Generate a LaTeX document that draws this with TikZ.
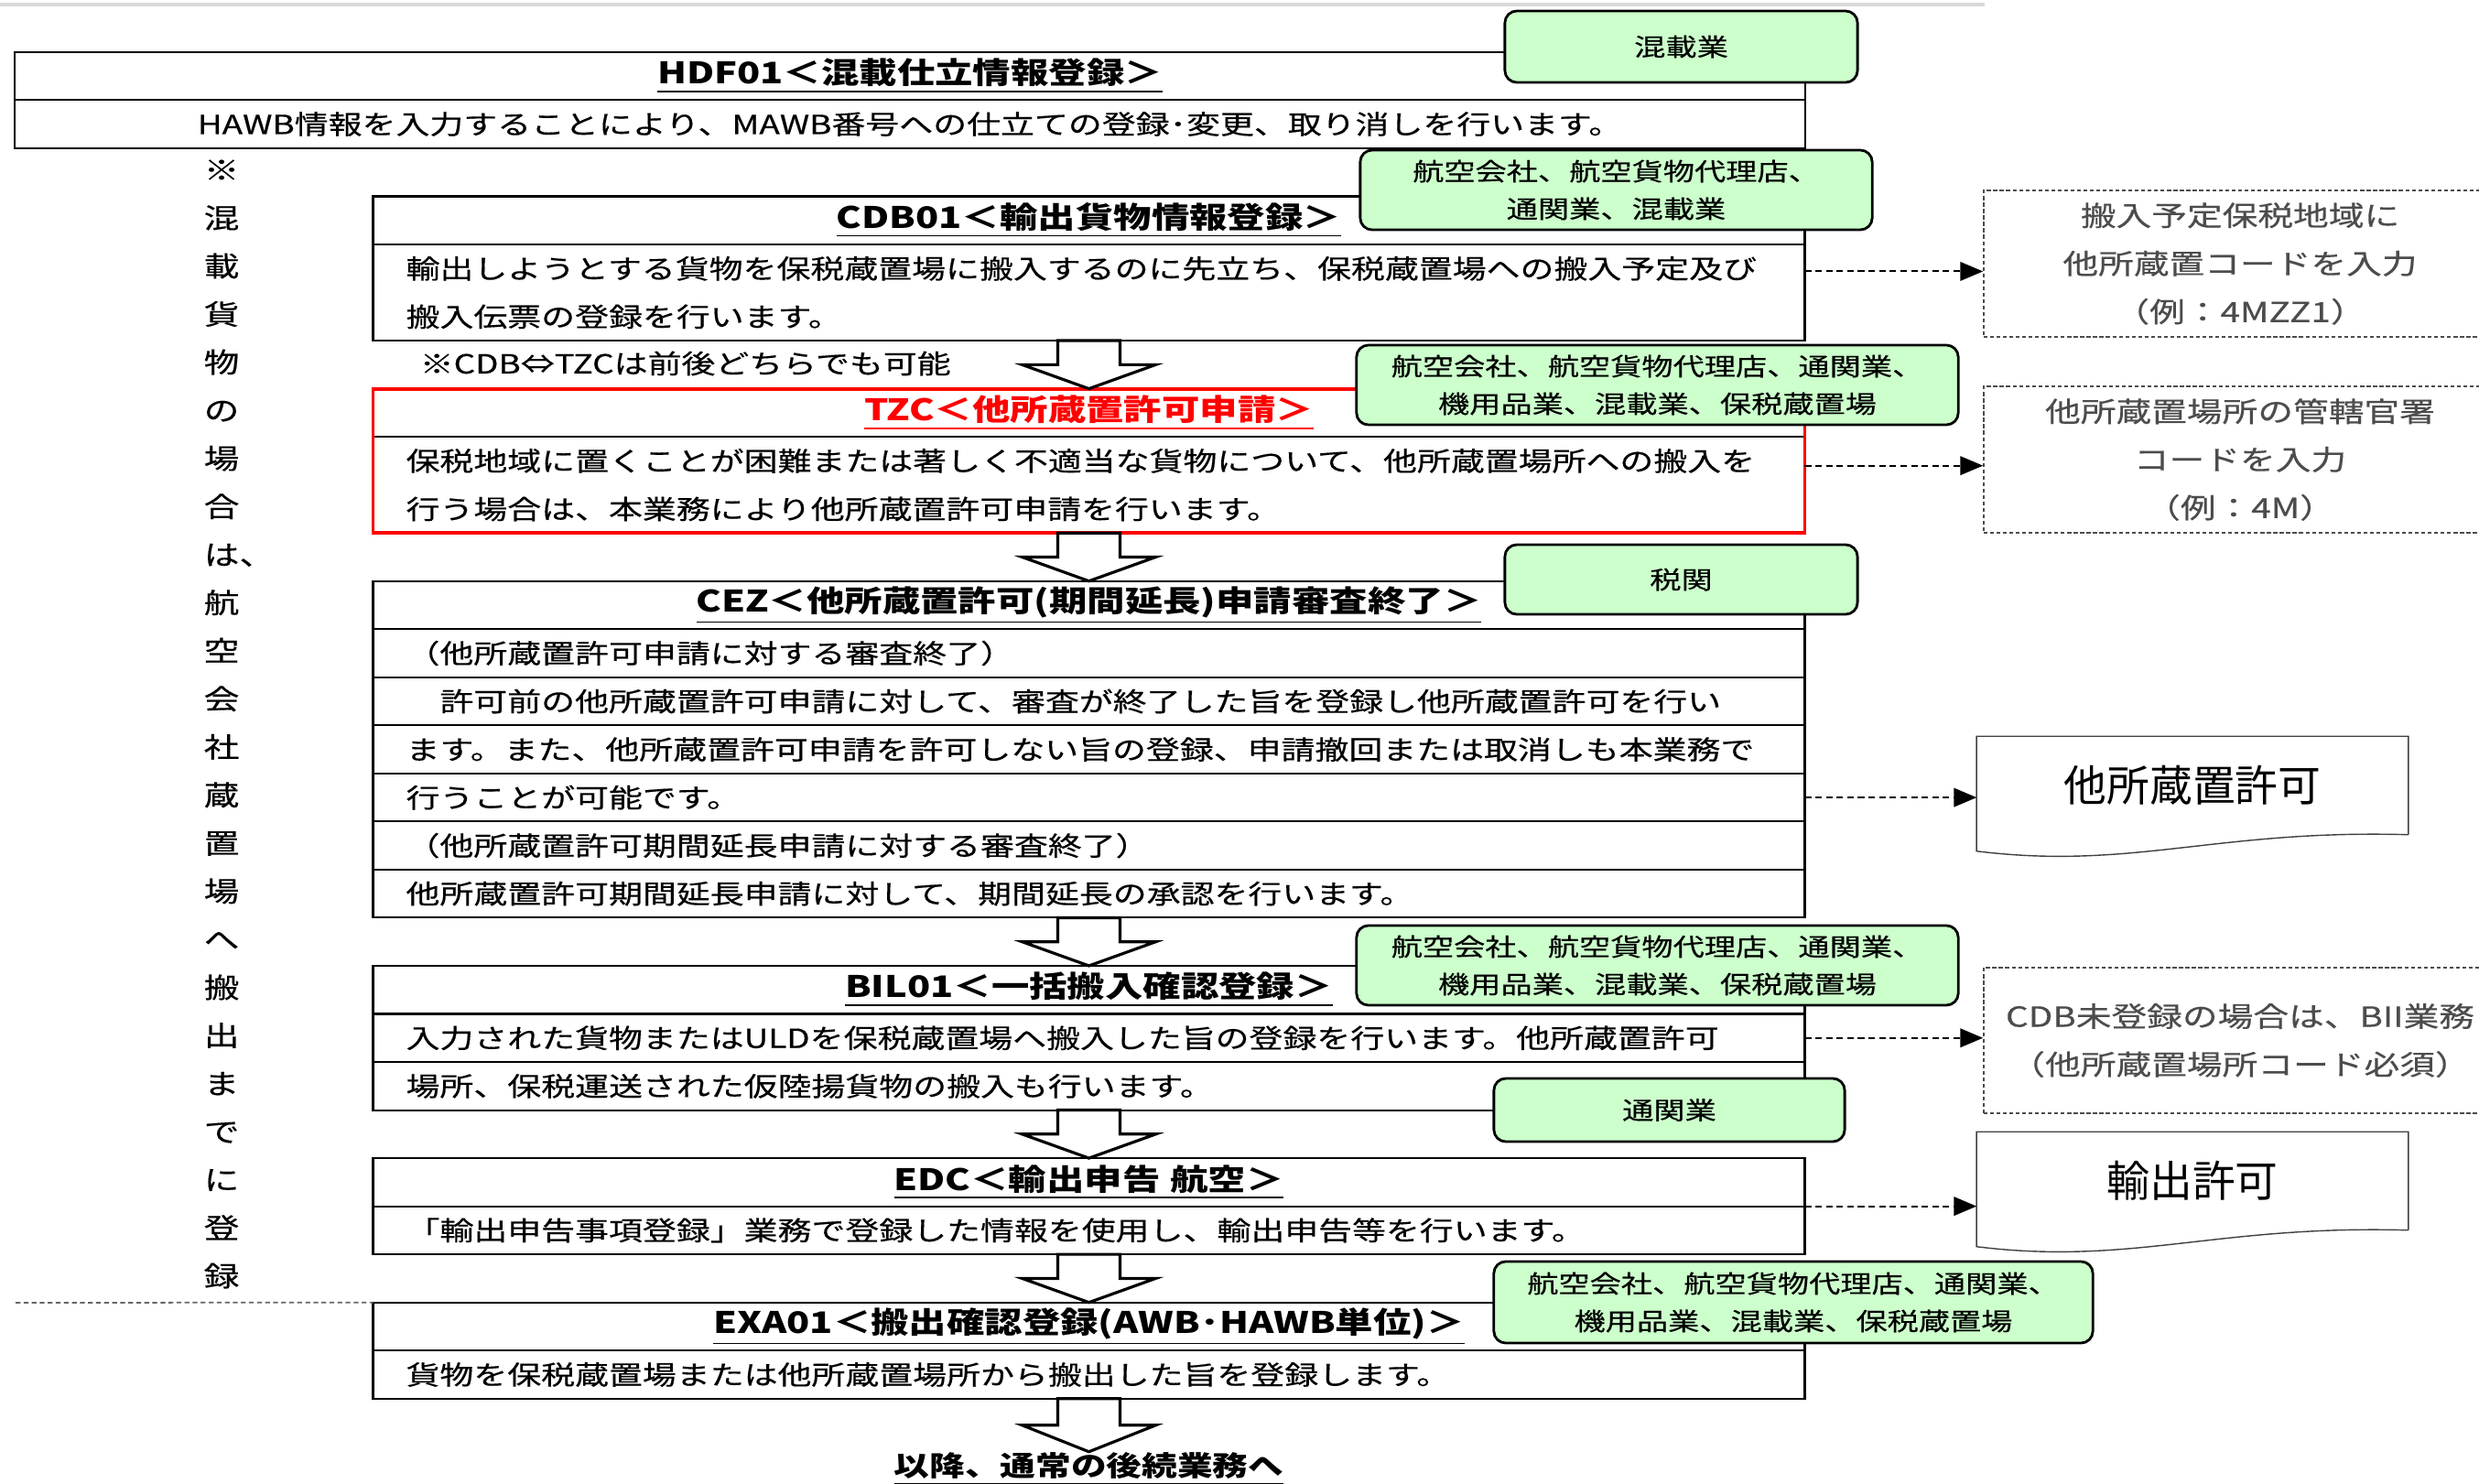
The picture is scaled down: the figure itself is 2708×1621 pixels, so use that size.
\documentclass[tikz,border=0pt]{standalone}
\usepackage{fontspec}
\setmainfont{Noto Sans CJK JP}[FakeStretch=1.28,UprightFeatures={FakeBold=0.4}]
\newfontfamily\plainjp{Noto Sans CJK JP}
\usetikzlibrary{arrows,positioning,calc}
\definecolor{rolegreen}{RGB}{204,255,204}
\definecolor{alertred}{RGB}{255,0,0}
\newcommand\rowfont{\fontsize{8.2pt}{0.525cm}\selectfont}
\newcommand\titfont{\fontsize{9.2pt}{0.525cm}\selectfont\bfseries}
\newcommand\grnfont{\fontsize{7.6pt}{0.41cm}\selectfont}
\newcommand\cmtfont{\fontsize{8.6pt}{0.525cm}\selectfont}
\newcommand\docfont{\plainjp\fontsize{13.3pt}{16pt}\selectfont}
\newcommand\flowarrow[2]{%
  \draw[blk] ($(#1.south)+(-34,0)$) -- ($(#1.south)!.5!(#2.north)+(-34,0)$)
    -- ++(-39,0) -- (#2.north) -- ($(#1.south)!.5!(#2.north)+(73,0)$)
    -- ++(-39,0) -- ($(#1.south)+(34,0)$) -- cycle;}
\newcommand\docframe[1]{%
  \draw[docline] (#1.south east) -- (#1.north east) -- (#1.north west)
    -- ($(#1.south west)+(0,18)$) .. controls +(170,21) and +(-210,-6) .. (#1.south east);}

\begin{document}
\begin{tikzpicture}[x=0.01cm,y=-0.01cm,>=triangle 45,node distance=0pt,
cell/.style={draw,line width=0.6pt,outer sep=0pt,inner xsep=0.36cm,inner ysep=0pt,
  text width=14.91cm,minimum height=0.525cm},
headrow/.style={cell,align=center,font=\titfont},
textrow/.style={cell,align=left,font=\rowfont},
widerow/.style={text width=18.82cm},
role/.style={draw,line width=0.8pt,rounded corners=0.13cm,fill=rolegreen,inner sep=0pt,
  align=center,font=\grnfont},
memo/.style={draw=black!70,line width=0.4pt,dash pattern=on 1.2pt off 0.8pt,
  minimum width=5.6cm,minimum height=1.6cm,inner sep=0pt,align=center,font=\cmtfont,
  text=black!70},
permit/.style={minimum width=4.7cm,minimum height=1.06cm,inner sep=0pt,font=\docfont},
link/.style={->,line width=0.6pt,dash pattern=on 2pt off 1.3pt},
blk/.style={draw,fill=white,line width=0.9pt},
docline/.style={draw=black!75,line width=0.4pt}]
\useasboundingbox (0,0) rectangle (2708,1621);
\clip (0,0) rectangle (2708,1621);
\draw[black!15,line width=1pt] (0,5) -- (2168,5);

\node[headrow,widerow] (hdft) at (994,83) {\underline{HDF01＜混載仕立情報登録＞}};
\node[textrow,widerow,align=center,below=of hdft] (hdfb)
  {HAWB情報を入力することにより、MAWB番号への仕立ての登録･変更、取り消しを行います。};

\node[headrow] (cdbt) at (1189.5,240.75) {\underline{CDB01＜輸出貨物情報登録＞}};
\node[textrow,minimum height=1.05cm,below=of cdbt] (cdbb)
  {輸出しようとする貨物を保税蔵置場に搬入するのに先立ち、保税蔵置場への搬入予定及び\\搬入伝票の登録を行います。};

\node[headrow,text=alertred,below=0.525cm of cdbb] (tzct) {\underline{TZC＜他所蔵置許可申請＞}};
\node[textrow,minimum height=1.05cm,below=of tzct] (tzcb)
  {保税地域に置くことが困難または著しく不適当な貨物について、他所蔵置場所への搬入を\\行う場合は、本業務により他所蔵置許可申請を行います。};
\draw[line width=1.1pt,alertred] (tzct.north west) rectangle (tzcb.south east);

\node[headrow,below=0.525cm of tzcb] (cezt) {\underline{CEZ＜他所蔵置許可(期間延長)申請審査終了＞}};
\node[textrow,below=of cezt] (cez1) {（他所蔵置許可申請に対する審査終了）};
\node[textrow,below=of cez1] (cez2) {　許可前の他所蔵置許可申請に対して、審査が終了した旨を登録し他所蔵置許可を行い};
\node[textrow,below=of cez2] (cez3) {ます。また、他所蔵置許可申請を許可しない旨の登録、申請撤回または取消しも本業務で};
\node[textrow,below=of cez3] (cez4) {行うことが可能です。};
\node[textrow,below=of cez4] (cez5) {（他所蔵置許可期間延長申請に対する審査終了）};
\node[textrow,below=of cez5] (cez6) {他所蔵置許可期間延長申請に対して、期間延長の承認を行います。};

\node[headrow,below=0.525cm of cez6] (bilt) {\underline{BIL01＜一括搬入確認登録＞}};
\node[textrow,below=of bilt] (bil1) {入力された貨物またはULDを保税蔵置場へ搬入した旨の登録を行います。他所蔵置許可};
\node[textrow,below=of bil1] (bil2) {場所、保税運送された仮陸揚貨物の搬入も行います。};

\node[headrow,below=0.525cm of bil2] (edct) {\underline{EDC＜輸出申告 航空＞}};
\node[textrow,below=of edct] (edcb) {「輸出申告事項登録」業務で登録した情報を使用し、輸出申告等を行います。};

\node[headrow,below=0.525cm of edcb] (exat) {\underline{EXA01＜搬出確認登録(AWB･HAWB単位)＞}};
\node[textrow,below=of exat] (exab) {貨物を保税蔵置場または他所蔵置場所から搬出した旨を登録します。};

\node[font=\fontsize{8.6pt}{0.5cm}\selectfont\bfseries,inner sep=0pt,below=0.58cm of exab] (next)
  {\underline{以降、通常の後続業務へ}};

\flowarrow{cdbb}{tzct}
\flowarrow{tzcb}{cezt}
\flowarrow{cez6}{bilt}
\flowarrow{bil2}{edct}
\flowarrow{edcb}{exat}
\flowarrow{exab}{next}

\node[font=\rowfont,inner sep=0pt,anchor=west] (order) at (458,397) {※CDB⇔TZCは前後どちらでも可能};
\node[font=\cmtfont,align=left,inner sep=0pt,anchor=west] (kanji) at (222,791)
  {※\\混\\載\\貨\\物\\の\\場\\合\\は、\\航\\空\\会\\社\\蔵\\置\\場\\へ\\搬\\出\\ま\\で\\に\\登\\録};
\coordinate (edge) at (17,1423);
\draw[black!60,line width=0.5pt,dash pattern=on 1.5pt off 1pt] (edge) -- (exat.north west);

\node[role,minimum width=3.85cm,minimum height=0.78cm] (rmix) at (1836.5,51) {混載業};
\node[role,minimum width=5.59cm,minimum height=0.87cm] (rcdb) at (1765.5,207.5)
  {航空会社、航空貨物代理店、\\通関業、混載業};
\node[role,minimum width=6.57cm,minimum height=0.87cm] (rtzc) at (1810.5,420.5)
  {航空会社、航空貨物代理店、通関業、\\機用品業、混載業、保税蔵置場};
\node[role,minimum width=3.85cm,minimum height=0.76cm] (rcez) at (1836.5,633) {税関};
\node[role,minimum width=6.57cm,minimum height=0.87cm] (rbil) at (1810.5,1054.5)
  {航空会社、航空貨物代理店、通関業、\\機用品業、混載業、保税蔵置場};
\node[role,minimum width=3.83cm,minimum height=0.69cm] (redc) at (1823.5,1212.5) {通関業};
\node[role,minimum width=6.54cm,minimum height=0.89cm] (rexa) at (1959,1422.5)
  {航空会社、航空貨物代理店、通関業、\\機用品業、混載業、保税蔵置場};

\node[memo] (mcdb) at (2447,288) {搬入予定保税地域に\\他所蔵置コードを入力\\（例：4MZZ1）};
\node[memo] (mtzc) at (2447,502) {他所蔵置場所の管轄官署\\コードを入力\\（例：4M）};
\node[memo,minimum height=1.59cm] (mbil) at (2447,1136.5)
  {CDB未登録の場合は、BII業務\\（他所蔵置場所コード必須）};

\node[permit] (pcez) at (2395,858) {他所蔵置許可};
\node[permit] (pedc) at (2395,1290) {輸出許可};
\docframe{pcez}
\docframe{pedc}

\coordinate (l1) at ($(cdbb.north east)!.28!(cdbb.south east)$);
\coordinate (l2) at ($(tzcb.north east)!.3!(tzcb.south east)$);
\draw[link] (l1) -- (l1 -| mcdb.west);
\draw[link] (l2) -- (l2 -| mtzc.west);
\draw[link] (cez4.east) -- (cez4.east -| pcez.west);
\draw[link] (bil1.east) -- (bil1.east -| mbil.west);
\draw[link] (edcb.north east) -- (edcb.north east -| pedc.west);
\end{tikzpicture}
\end{document}
